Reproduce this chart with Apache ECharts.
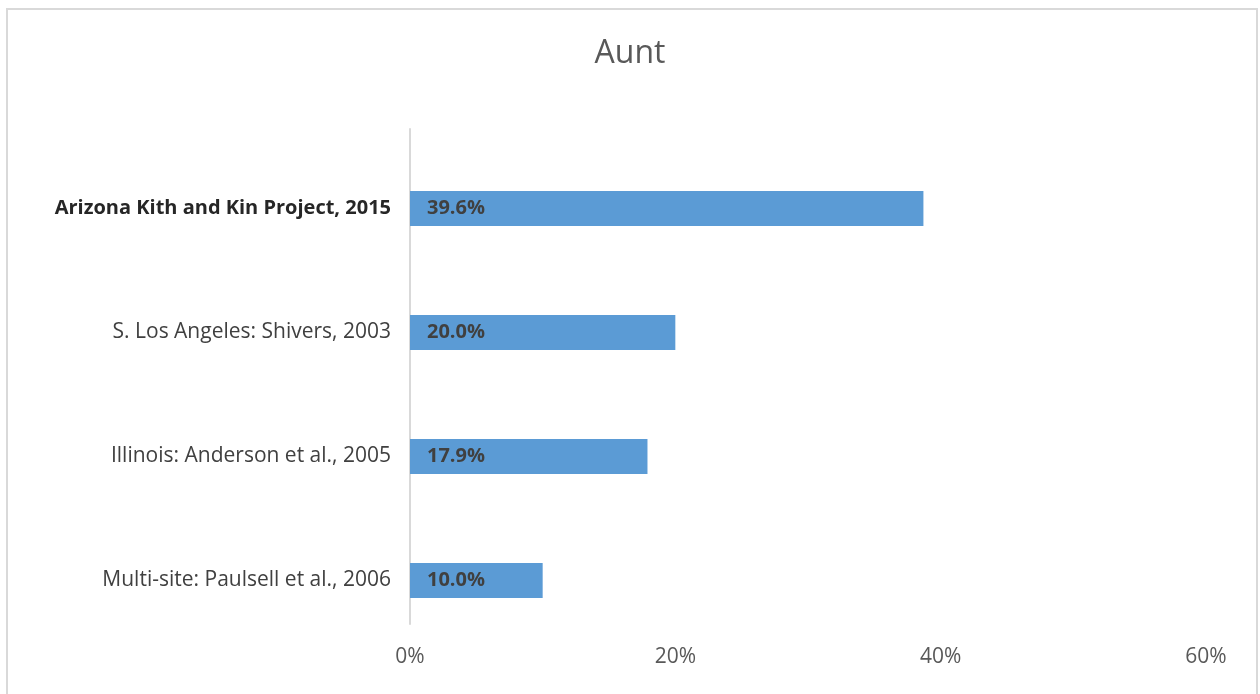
<!DOCTYPE html>
<html>
<head>
<meta charset="utf-8">
<script src="https://cdn.jsdelivr.net/npm/echarts@6/dist/echarts.min.js"></script>
<style>
html,body{margin:0;padding:0;background:#fff;}
#frame{position:absolute;left:6px;top:8px;width:1252px;height:700px;border:2px solid #d9d9d9;box-sizing:border-box;}
#chart{position:absolute;left:0;top:0;width:1260px;height:694px;}
</style>
</head>
<body>
<div id="frame"></div>
<div id="chart"></div>
<script>
const titleText = 'Aunt';
const categories = [
  'Arizona Kith and Kin Project, 2015',
  'S. Los Angeles: Shivers, 2003',
  'Illinois: Anderson et al., 2005',
  'Multi-site: Paulsell et al., 2006'
];
const barValues = [38.7, 20.0, 17.9, 10.0];
const barLabels = ['39.6%', '20.0%', '17.9%', '10.0%'];
const xTicks = [0, 20, 40, 60];

const FONT = '"Open Sans", "Noto Sans", sans-serif';
const xMin = xTicks[0], xMax = xTicks[xTicks.length - 1], xInt = xTicks[1] - xTicks[0];
const chart = echarts.init(document.getElementById('chart'), null, {renderer: 'canvas'});
chart.setOption({
  backgroundColor: 'transparent',
  animation: false,
  title: {
    text: titleText,
    left: 'center',
    top: 33,
    textStyle: {fontFamily: FONT, fontSize: 32, fontWeight: 'normal', color: '#595959'}
  },
  grid: [
    {left: 410, right: 54, top: 129, bottom: 70, containLabel: false},
    {left: 410, right: 54, top: 146.5, bottom: 51.5, containLabel: false}
  ],
  xAxis: [{
    gridIndex: 0,
    type: 'value', min: xMin, max: xMax, interval: xInt,
    axisLine: {show: false}, axisTick: {show: false}, splitLine: {show: false},
    axisLabel: {formatter: v => v + '%', fontFamily: FONT, fontSize: 21, color: '#595959', margin: 23}
  }, {
    gridIndex: 1,
    type: 'value', min: xMin, max: xMax, interval: xInt,
    axisLine: {show: false}, axisTick: {show: false}, splitLine: {show: false},
    axisLabel: {show: false}
  }],
  yAxis: [{
    gridIndex: 0,
    type: 'category', inverse: true, data: categories,
    axisLine: {show: true, lineStyle: {color: '#d9d9d9', width: 2}},
    axisTick: {show: false}, axisLabel: {show: false}
  }, {
    gridIndex: 1,
    type: 'category', inverse: true, data: categories,
    axisLine: {show: false}, axisTick: {show: false},
    axisLabel: {
      fontFamily: FONT, fontSize: 21, color: '#404040', margin: 19,
      formatter: (v, i) => i === 0 ? '{b|' + v + '}' : v,
      rich: {b: {fontFamily: FONT, fontSize: 20, fontWeight: 'bold', color: '#262626'}}
    }
  }],
  series: [{
    type: 'bar',
    xAxisIndex: 1, yAxisIndex: 1,
    data: barValues,
    barWidth: 35,
    itemStyle: {color: '#5b9bd5'},
    label: {
      show: true,
      position: 'insideLeft',
      distance: 17,
      formatter: p => barLabels[p.dataIndex],
      fontFamily: FONT, fontSize: 20, fontWeight: 'bold', color: '#404040'
    }
  }]
});
</script>
</body>
</html>
